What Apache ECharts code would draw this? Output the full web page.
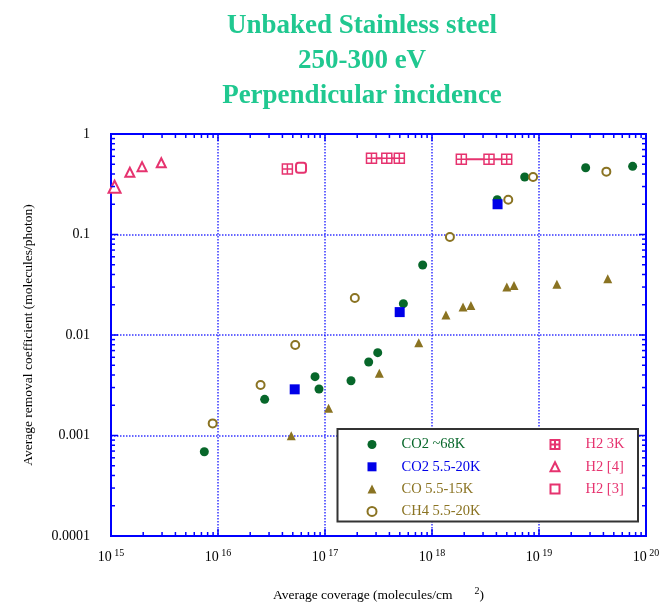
<!DOCTYPE html>
<html>
<head>
<meta charset="utf-8">
<script src="https://cdn.jsdelivr.net/npm/echarts@6/dist/echarts.min.js"></script>
<style>html,body{margin:0;padding:0;background:#fff;}#c{width:662px;height:605px;}</style>
</head>
<body>
<div id="c"></div>
<script>
// ---- data (x: molecules/cm^2, y: molecules/photon) ----
const co2_68K_x = [7.45e15, 2.73e16, 8.07e16, 8.79e16, 1.75e17, 2.56e17, 3.11e17, 5.4e17, 8.18e17, 4.07e18, 7.35e18, 2.73e19, 7.5e19];
const co2_68K_y = [0.00069, 0.00229, 0.00385, 0.0029, 0.00351, 0.00539, 0.00667, 0.0205, 0.0497, 0.222, 0.373, 0.462, 0.477];

const co2_520K_x = [5.21e16, 4.99e17, 4.1e18];
const co2_520K_y = [0.00288, 0.0169, 0.2];

const co_515K_x = [4.84e16, 1.08e17, 3.22e17, 7.52e17, 1.35e18, 1.95e18, 2.31e18, 5.0e18, 5.84e18, 1.47e19, 4.39e19];
const co_515K_y = [0.000995, 0.00187, 0.00416, 0.00838, 0.0158, 0.019, 0.0197, 0.030, 0.031, 0.0319, 0.0363];

const ch4_x = [8.92e15, 2.5e16, 5.27e16, 1.9e17, 1.47e18, 5.16e18, 8.8e18, 4.26e19];
const ch4_y = [0.00132, 0.00318, 0.00795, 0.0233, 0.0944, 0.222, 0.373, 0.422];

const h2_3K_single_x = [4.45e16];
const h2_3K_single_y = [0.449];
const h2_3K_groupA_x = [2.72e17, 3.78e17, 4.95e17];
const h2_3K_groupA_y = [0.573, 0.573, 0.573];
const h2_3K_groupB_x = [1.88e18, 3.41e18, 4.99e18];
const h2_3K_groupB_y = [0.56, 0.56, 0.56];

const h2_ref4_x = [1.08e15, 1.5e15, 1.95e15, 2.95e15];
const h2_ref4_y = [0.299, 0.416, 0.473, 0.518];

const h2_ref3_x = [5.97e16];
const h2_ref3_y = [0.462];

// axis
const xMin = 1e15, xMax = 1e20;
const yMin = 1e-4, yMax = 1;
const xDecades = [15, 16, 17, 18, 19, 20];
const yDecades = [-4, -3, -2, -1, 0];
const yTickLabels = ['0.0001', '0.001', '0.01', '0.1', '1'];
const minorMantissas = [2, 3, 4, 5, 6, 7, 8, 9];

const titleText = 'Unbaked Stainless steel\n250-300 eV\nPerpendicular incidence';
const xName = 'Average coverage (molecules/cm';
const yName = 'Average removal coefficient (molecules/photon)';

const names = ['CO2 ~68K', 'CO2 5.5-20K', 'CO 5.5-15K', 'CH4 5.5-20K', 'H2 3K', 'H2 [4]', 'H2 [3]'];

// ---- build ----
const zip = (xs, ys) => xs.map((x, i) => [x, ys[i]]);

const GREEN = '#07672a', BLUE = '#0000e8', OLIVE = '#8a7322', PINK = '#e6336f', AXIS = '#0000ff';
const FONT = 'Liberation Serif';

// tick marks data: [x, y, kind(0=x,1=y), major]
const tickData = [];
xDecades.forEach(d => {
  tickData.push([Math.pow(10, d), yMin, 0, 1]);
  if (d < 20) minorMantissas.forEach(m => tickData.push([m * Math.pow(10, d), yMin, 0, 0]));
});
yDecades.forEach(d => {
  tickData.push([xMin, Math.pow(10, d), 1, 1]);
  if (d < 0) minorMantissas.forEach(m => tickData.push([xMin, m * Math.pow(10, d), 1, 0]));
});

const chart = echarts.init(document.getElementById('c'), null, {renderer: 'canvas'});

const h2Cross = 'path://M1,1H19V19H1Z M10,1V19 M1,10H19';

const option = {
  animation: false,
  backgroundColor: '#fff',
  title: {
    text: titleText,
    left: 357, top: 4, textAlign: 'center',
    textStyle: {fontFamily: FONT, fontSize: 27, fontWeight: 'bold', color: '#20c890', lineHeight: 35}
  },
  grid: {left: 111, top: 134, width: 535, height: 402, show: true, borderColor: AXIS, borderWidth: 2,
    backgroundColor: 'transparent', containLabel: false, outerBoundsMode: 'none'},
  xAxis: {
    type: 'log', min: xMin, max: xMax, logBase: 10, interval: 1,
    axisLine: {show: true, lineStyle: {color: AXIS, width: 2}},
    axisTick: {show: false},
    splitLine: {show: true, lineStyle: {color: AXIS, width: 1.5, type: [1.5, 1.5], opacity: 0.8}},
    axisLabel: {
      margin: 12,
      formatter: v => '{b|10}{e| ' + Math.round(Math.log10(v)) + '}',
      rich: {
        b: {fontFamily: FONT, fontSize: 14, color: '#000'},
        e: {fontFamily: FONT, fontSize: 10, color: '#000', padding: [0, 0, 8, 0]}
      }
    },
    name: '{n|' + xName + '}{g|}{s|2}{n|)}',
    nameLocation: 'middle', nameGap: 50,
    nameTextStyle: {
      rich: {
        n: {fontFamily: FONT, fontSize: 13.5, color: '#000'},
        g: {width: 22},
        s: {fontFamily: FONT, fontSize: 10, color: '#000', padding: [0, 0, 8, 0]}
      }
    }
  },
  yAxis: {
    type: 'log', min: yMin, max: yMax, logBase: 10, interval: 1,
    axisLine: {show: true, lineStyle: {color: AXIS, width: 2}},
    axisTick: {show: false},
    splitLine: {show: true, lineStyle: {color: AXIS, width: 1.5, type: [1.5, 1.5], opacity: 0.8}},
    axisLabel: {
      margin: 21, fontFamily: FONT, fontSize: 14, color: '#000',
      formatter: v => yTickLabels[yDecades.indexOf(Math.round(Math.log10(v)))]
    },
    name: yName, nameLocation: 'middle', nameGap: 76,
    nameTextStyle: {fontFamily: FONT, fontSize: 13.5, color: '#000'}
  },
  legend: [
    {
      orient: 'vertical', left: 366.5, top: 437, padding: 0, itemGap: 7.3,
      itemWidth: 9, itemHeight: 9, selectedMode: false,
      textStyle: {fontFamily: FONT, fontSize: 14.5, lineHeight: 14, padding: [0, 0, 0, 20]},
      data: [
        {name: names[0], textStyle: {color: GREEN}},
        {name: names[1], textStyle: {color: BLUE}},
        {name: names[2], textStyle: {color: OLIVE}},
        {name: names[3], textStyle: {color: OLIVE}, itemStyle: {borderWidth: 1.3}}
      ]
    },
    {
      orient: 'vertical', left: 549.5, top: 437, padding: 0, itemGap: 7.3,
      itemWidth: 9, itemHeight: 9, selectedMode: false,
      textStyle: {fontFamily: FONT, fontSize: 14.5, lineHeight: 14, padding: [0, 0, 0, 21]},
      data: [
        {name: names[4], textStyle: {color: PINK}},
        {name: names[5], textStyle: {color: PINK}, itemStyle: {borderWidth: 1.3}},
        {name: names[6], textStyle: {color: PINK}, icon: 'emptyRect', itemStyle: {borderWidth: 1.3}}
      ]
    }
  ],
  graphic: [{
    type: 'rect', z: 3, silent: true,
    shape: {x: 337.5, y: 429, width: 300.5, height: 92.5},
    style: {fill: '#fff', stroke: '#333', lineWidth: 2}
  }],
  series: [
    {
      type: 'custom', name: 'ticks', silent: true, clip: false, z: 5,
      encode: {x: 0, y: 1},
      data: tickData,
      renderItem: (params, api) => {
        const kind = api.value(2), major = api.value(3);
        const len = major ? 7 : 4;
        const st = {stroke: AXIS, lineWidth: 1.5};
        if (kind === 0) {
          const v = api.value(0);
          const p = api.coord([v, yMin]), q = api.coord([v, yMax]);
          return {type: 'group', children: [
            {type: 'line', shape: {x1: p[0], y1: p[1], x2: p[0], y2: p[1] - len}, style: st},
            {type: 'line', shape: {x1: q[0], y1: q[1], x2: q[0], y2: q[1] + len}, style: st}
          ]};
        } else {
          const v = api.value(1);
          const p = api.coord([xMin, v]), q = api.coord([xMax, v]);
          return {type: 'group', children: [
            {type: 'line', shape: {x1: p[0], y1: p[1], x2: p[0] + len, y2: p[1]}, style: st},
            {type: 'line', shape: {x1: q[0], y1: q[1], x2: q[0] - len, y2: q[1]}, style: st}
          ]};
        }
      }
    },
    {type: 'line', name: 'h2lineA', data: zip(h2_3K_groupA_x, h2_3K_groupA_y), symbol: 'none', lineStyle: {color: PINK, width: 2}, z: 2},
    {type: 'line', name: 'h2lineB', data: zip(h2_3K_groupB_x, h2_3K_groupB_y), symbol: 'none', lineStyle: {color: PINK, width: 2}, z: 2},
    {type: 'scatter', name: names[0], data: zip(co2_68K_x, co2_68K_y), symbol: 'circle', symbolSize: 9, itemStyle: {color: GREEN, opacity: 1}},
    {type: 'scatter', name: names[1], data: zip(co2_520K_x, co2_520K_y), symbol: 'rect', symbolSize: 10, itemStyle: {color: BLUE, opacity: 1}},
    {type: 'scatter', name: names[2], data: zip(co_515K_x, co_515K_y), symbol: 'triangle', symbolSize: 9, itemStyle: {color: OLIVE, opacity: 1}},
    {type: 'scatter', name: names[3], data: zip(ch4_x, ch4_y), symbol: 'emptyCircle', symbolSize: 8, itemStyle: {color: OLIVE, borderWidth: 1.5, opacity: 1}},
    {type: 'scatter', name: names[4], data: zip(h2_3K_single_x, h2_3K_single_y).concat(zip(h2_3K_groupA_x, h2_3K_groupA_y), zip(h2_3K_groupB_x, h2_3K_groupB_y)),
      symbol: h2Cross, symbolSize: 10, itemStyle: {color: '#fff', borderColor: PINK, borderWidth: 1.5, opacity: 1}, z: 3},
    {type: 'scatter', name: names[5], data: zip(h2_ref4_x, h2_ref4_y), symbol: 'emptyTriangle',
      symbolSize: (v, p) => p.dataIndex === 0 ? 12 : 9, itemStyle: {color: PINK, borderWidth: 1.5, opacity: 1}},
    {type: 'scatter', name: names[6], data: zip(h2_ref3_x, h2_ref3_y), symbol: 'emptyRoundRect', symbolSize: 10, itemStyle: {color: PINK, borderWidth: 1.5, opacity: 1}}
  ]
};
chart.setOption(option);
</script>
</body>
</html>
